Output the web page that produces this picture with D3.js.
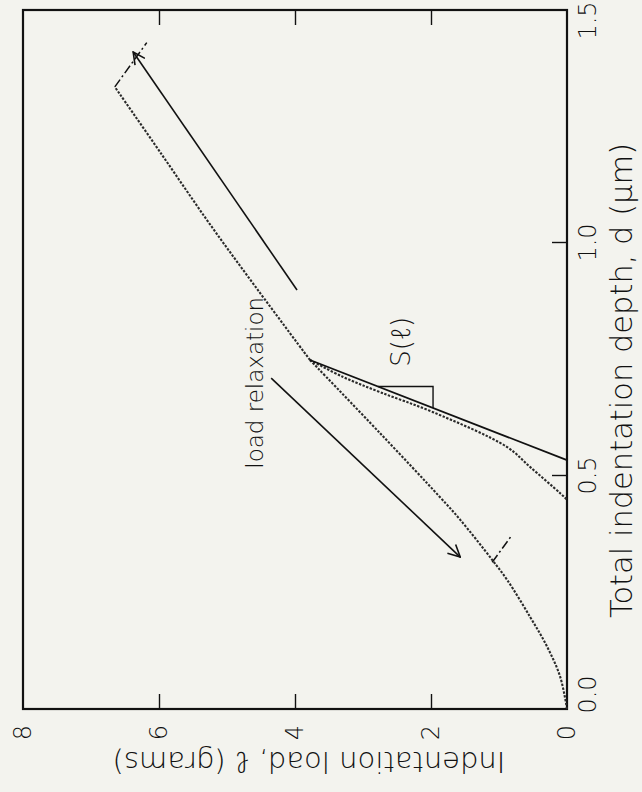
<!DOCTYPE html>
<html><head><meta charset="utf-8">
<script src="https://cdn.jsdelivr.net/npm/d3@7"></script>
<style>
html,body{margin:0;padding:0;background:#f3f3ee;}
svg{display:block;}
text{font-family:"DejaVu Sans","Open Sans",sans-serif;font-weight:300;fill:#111;}
</style></head><body>
<svg id="chart" width="642" height="792"></svg>
<script>
// ---- data (depth d in µm, load ℓ in grams) ----
const depthTicks = [0, 0.5, 1.0, 1.5];
const depthTickLabels = ["0.0", "0.5", "1.0", "1.5"];
const loadTicks = [0, 2, 4, 6, 8];
const loadTickLabels = ["0", "2", "4", "6", "8"];

const loadingDepth = [0, 0.069, 0.133, 0.197, 0.277, 0.320, 0.406, 0.455, 0.592, 0.749];
const loadingLoad  = [0, 0.10, 0.29, 0.54, 0.88, 1.10, 1.57, 1.87, 2.75, 3.78];

const reloadDepth = [0.749, 0.90, 1.04, 1.19, 1.335];
const reloadLoad  = [3.78, 4.55, 5.25, 5.96, 6.65];

const unloadDepth = [0.749, 0.713, 0.680, 0.637, 0.562, 0.519, 0.463, 0.449];
const unloadLoad  = [3.78, 3.30, 2.75, 1.97, 0.88, 0.54, 0.10, 0];

const tangentDepth = [0.749, 0.534];
const tangentLoad  = [3.78, 0];

const relax1Depth = [0.315, 0.371];
const relax1Load  = [1.10, 0.82];
const relax2Depth = [1.335, 1.43];
const relax2Load  = [6.65, 6.18];

const triDepth = [0.692, 0.692, 0.646];
const triLoad  = [2.78, 1.97, 1.97];

const arrowTailDepth = [0.899, 0.71];
const arrowTailLoad  = [3.97, 4.35];
const arrowHeadDepth = [1.41, 0.326];
const arrowHeadLoad  = [6.38, 1.57];

// ---- layout ----
const svg = d3.select("#chart");
const W = 699, H = 544;          // unrotated plot: depth along W, load along H
const g = svg.append("g").attr("transform", "translate(23,709) rotate(-90)");

const x = d3.scaleLinear().domain([0, 1.5]).range([0, W]);
const y = d3.scaleLinear().domain([0, 8]).range([H, 0]);

const defs = svg.append("defs");
defs.append("marker").attr("id", "arr").attr("viewBox", "0 0 14 14")
  .attr("refX", 13).attr("refY", 7).attr("markerWidth", 14).attr("markerHeight", 14)
  .attr("markerUnits", "userSpaceOnUse").attr("orient", "auto")
  .append("path").attr("d", "M1,1 L13,7 L1,13").attr("fill", "none")
  .attr("stroke", "#111").attr("stroke-width", 1.6);

// frame
g.append("rect").attr("x", 0).attr("y", 0).attr("width", W).attr("height", H)
  .attr("fill", "none").attr("stroke", "#111").attr("stroke-width", 2.2);

// depth axis (bottom of unrotated plot)
const ax = g.append("g").attr("transform", `translate(0,${H})`)
  .call(d3.axisBottom(x).tickValues(depthTicks).tickSize(-15).tickPadding(12)
    .tickFormat((d, i) => depthTickLabels[i]));
ax.select(".domain").remove();
ax.selectAll(".tick line").attr("stroke", "#111").attr("stroke-width", 1.4)
  .filter(d => d === 0 || d === 1.5).remove();
ax.selectAll(".tick text").attr("font-size", 24).attr("fill", "#111")
  .attr("dx", d => d === 0 ? 14 : (d === 1.5 ? -11 : 0));

// load axis (left of unrotated plot)
const ay = g.append("g")
  .call(d3.axisLeft(y).tickValues(loadTicks).tickSize(-15).tickPadding(16)
    .tickFormat((d, i) => loadTickLabels[i]));
ay.select(".domain").remove();
ay.selectAll(".tick line").attr("stroke", "#111").attr("stroke-width", 1.4)
  .filter(d => d === 0 || d === 8).remove();
ay.selectAll(".tick text").attr("font-size", 24).attr("fill", "#111");

// mirrored load ticks (right of unrotated plot)
const ay2 = g.append("g").attr("transform", `translate(${W},0)`)
  .call(d3.axisRight(y).tickValues(loadTicks.filter(v => v > 0 && v < 8)).tickSize(-15).tickFormat(""));
ay2.select(".domain").remove();
ay2.selectAll(".tick line").attr("stroke", "#111").attr("stroke-width", 1.4);
g.selectAll("g").attr("font-family", null);

// titles
g.append("text").attr("x", 91).attr("y", H + 65)
  .attr("font-size", 30.5).attr("text-anchor", "start")
  .text("Total indentation depth, d (μm)");

g.append("text").attr("transform", `translate(-43,286) rotate(-90)`)
  .attr("font-size", 29).attr("text-anchor", "middle")
  .text("Indentation load, ℓ (grams)");

// curves
const line = d3.line().x(p => x(p[0])).y(p => y(p[1]));
const zipPts = (ds, ls) => ds.map((d, i) => [d, ls[i]]);

function dotted(ds, ls) {
  g.append("path").attr("d", line.curve(d3.curveCatmullRom)(zipPts(ds, ls)))
    .attr("fill", "none").attr("stroke", "#2a2a2a").attr("stroke-width", 2.1)
    .attr("stroke-dasharray", "2.4,1.5");
}
dotted(loadingDepth, loadingLoad);
dotted(reloadDepth, reloadLoad);
dotted(unloadDepth, unloadLoad);

line.curve(d3.curveLinear);
g.append("path").attr("d", line(zipPts(tangentDepth, tangentLoad)))
  .attr("fill", "none").attr("stroke", "#111").attr("stroke-width", 1.8);

[[relax1Depth, relax1Load], [relax2Depth, relax2Load]].forEach(([ds, ls]) => {
  g.append("path").attr("d", line(zipPts(ds, ls)))
    .attr("fill", "none").attr("stroke", "#111").attr("stroke-width", 1.5)
    .attr("stroke-dasharray", "9,3,2,3");
});

g.append("path").attr("d", line(zipPts(triDepth, triLoad)))
  .attr("fill", "none").attr("stroke", "#111").attr("stroke-width", 1.4);

// annotations
g.append("text").attr("x", x(0.788)).attr("y", y(2.31))
  .attr("font-size", 26).attr("text-anchor", "middle").text("S(ℓ)");

g.append("text").attr("x", x(0.70)).attr("y", y(4.47))
  .attr("font-size", 23).attr("text-anchor", "middle").text("load relaxation");

arrowTailDepth.forEach((d, i) => {
  g.append("line")
    .attr("x1", x(d)).attr("y1", y(arrowTailLoad[i]))
    .attr("x2", x(arrowHeadDepth[i])).attr("y2", y(arrowHeadLoad[i]))
    .attr("stroke", "#111").attr("stroke-width", 1.6).attr("marker-end", "url(#arr)");
});
</script>
</body></html>
